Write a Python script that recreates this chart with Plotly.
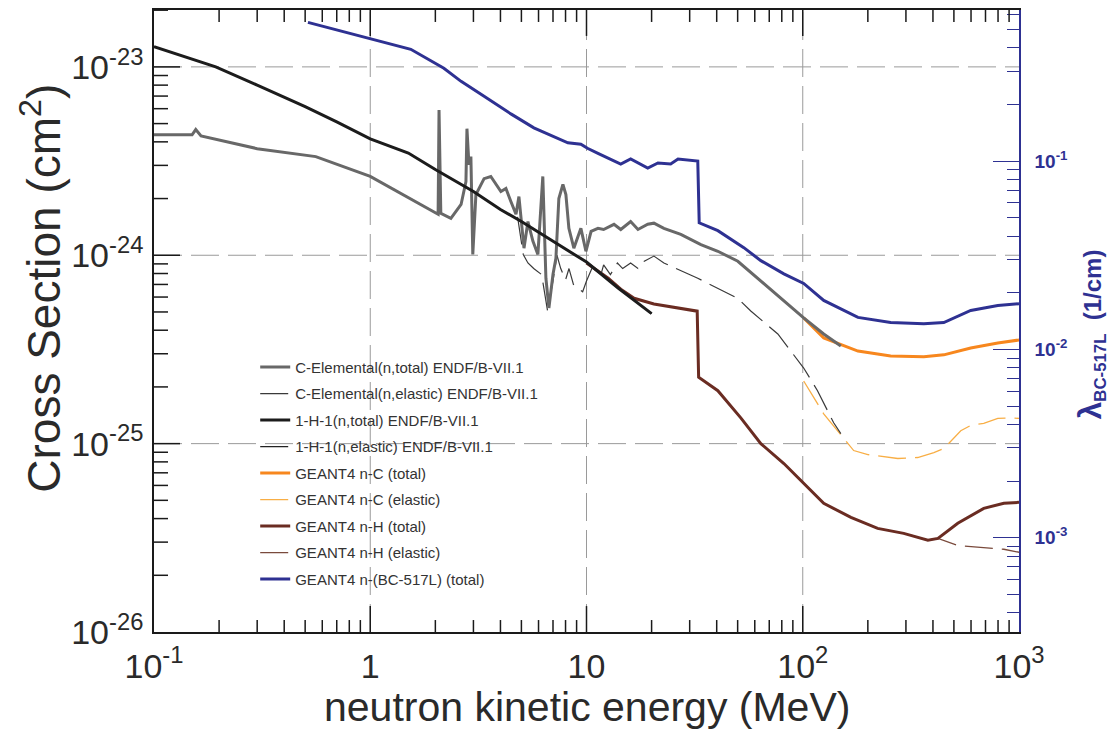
import plotly.graph_objects as go

# ---------------- data ----------------
# ENDF/B-VII.1 C-Elemental (n,total)  [MeV, cm^2]
E_C_TOT = [0.1, 0.15, 0.156, 0.165, 0.3, 0.56, 1.0, 1.39, 2.06, 2.08, 2.12, 2.36, 2.63, 2.77,
           2.80, 2.86, 2.92, 2.98, 3.08, 3.36, 3.61, 4.02, 4.24, 4.47, 4.72, 4.87, 5.14, 5.36,
           5.65, 5.96, 6.28, 6.49, 6.70, 7.00, 7.22, 7.45, 7.78, 8.03, 8.29, 8.74, 9.42, 9.94,
           10.5, 11.3, 12.0, 13.4, 14.4, 16.0, 17.3, 19.2, 20.5, 22.8, 27.3, 33.8, 40.5, 50.1,
           64, 81.8, 101, 125, 150]
S_C_TOT = [4.36e-24, 4.36e-24, 4.65e-24, 4.30e-24, 3.68e-24, 3.34e-24, 2.62e-24, 2.13e-24,
           1.65e-24, 5.9e-24, 1.67e-24, 1.57e-24, 1.86e-24, 2.46e-24, 4.70e-24, 3.03e-24,
           3.34e-24, 1.01e-24, 2.10e-24, 2.55e-24, 2.62e-24, 2.18e-24, 2.26e-24, 1.93e-24,
           1.65e-24, 2.05e-24, 1.09e-24, 1.51e-24, 1.19e-24, 1.01e-24, 2.62e-24, 7.55e-25,
           5.25e-25, 7.93e-25, 9.64e-25, 2.00e-24, 2.38e-24, 2.10e-24, 1.39e-24, 1.09e-24,
           1.39e-24, 1.05e-24, 1.34e-24, 1.39e-24, 1.37e-24, 1.46e-24, 1.37e-24, 1.51e-24,
           1.37e-24, 1.46e-24, 1.48e-24, 1.39e-24, 1.29e-24, 1.14e-24, 1.05e-24, 9.29e-25,
           7.28e-25, 5.71e-25, 4.65e-25, 3.82e-25, 3.30e-25]

# ENDF/B-VII.1 C-Elemental (n,elastic)
E_C_EL = [4.8, 5.1, 5.36, 5.7, 6.2, 6.6, 7.0, 7.3, 7.6, 8.0, 8.3, 8.7, 9.1, 9.6, 10.0, 10.7,
          11.7, 12.0, 12.9, 13.9, 14.7, 16.0, 17.3, 18.5, 20.5, 22.8, 32.7, 50.1, 57.5, 76.7,
          101, 117, 139, 150]
S_C_EL = [1.6e-24, 1.01e-24, 9.1e-25, 8.5e-25, 7.9e-25, 5.1e-25, 7.3e-25, 1.0e-24, 8.5e-25,
          7.4e-25, 8.5e-25, 7.0e-25, 6.7e-25, 6.4e-25, 7.3e-25, 8.75e-25, 8.0e-25, 8.9e-25,
          7.9e-25, 9.1e-25, 8.5e-25, 9.1e-25, 8.5e-25, 9.3e-25, 9.9e-25, 9.1e-25, 7.55e-25,
          5.9e-25, 5.06e-25, 3.82e-25, 2.52e-25, 1.91e-25, 1.29e-25, 1.13e-25]

# ENDF/B-VII.1 1-H-1 (n,total) and (n,elastic)
E_H_TOT = [0.1, 0.193, 0.3, 0.5, 0.7, 1.0, 1.5, 2.0, 3.0, 4.0, 5.0, 7.0, 10, 14, 20]
S_H_TOT = [1.28e-23, 1.0e-23, 8.0e-24, 6.15e-24, 5.1e-24, 4.15e-24, 3.49e-24, 2.85e-24,
           2.18e-24, 1.75e-24, 1.51e-24, 1.19e-24, 9.2e-25, 6.7e-25, 4.9e-25]
E_H_EL = [0.1, 0.193, 0.3, 0.5, 0.7, 1.0, 1.5, 2.0, 3.0, 4.0, 5.0, 7.0, 10, 14, 20]
S_H_EL = [1.28e-23, 1.0e-23, 8.0e-24, 6.15e-24, 5.1e-24, 4.15e-24, 3.49e-24, 2.85e-24,
          2.18e-24, 1.75e-24, 1.51e-24, 1.19e-24, 9.2e-25, 6.7e-25, 4.9e-25]

# GEANT4 n-C
E_G4C_TOT = [101, 125, 180, 255, 363, 449, 598, 798, 1000]
S_G4C_TOT = [4.65e-25, 3.64e-25, 3.10e-25, 2.92e-25, 2.89e-25, 2.96e-25, 3.22e-25, 3.42e-25, 3.55e-25]
E_G4C_EL = [101, 125, 172, 200, 275, 340, 404, 449, 538, 598, 687, 798, 916, 1000]
S_G4C_EL = [2.15e-25, 1.44e-25, 9.19e-26, 8.75e-26, 8.34e-26, 8.44e-26, 8.96e-26, 9.41e-26,
            1.17e-25, 1.25e-25, 1.28e-25, 1.36e-25, 1.37e-25, 1.36e-25]

# GEANT4 n-H
E_G4H_TOT = [10, 10.5, 12.6, 14.4, 16.6, 20.5, 26.5, 32.5, 33.0, 40.5, 51.7, 64, 81.8, 101,
             125, 167, 222, 293, 379, 422, 521, 687, 851, 1000]
S_G4H_TOT = [9.1e-25, 8.75e-25, 7.55e-25, 6.61e-25, 5.91e-25, 5.51e-25, 5.25e-25, 5.05e-25,
             2.25e-25, 1.91e-25, 1.37e-25, 1.0e-25, 7.84e-26, 6.14e-26, 4.82e-26, 4.06e-26,
             3.55e-26, 3.34e-26, 3.07e-26, 3.14e-26, 3.78e-26, 4.53e-26, 4.82e-26, 4.88e-26]
E_G4H_EL = [10, 10.5, 12.6, 14.4, 16.6, 20.5, 26.5, 32.5, 33.0, 40.5, 51.7, 64, 81.8, 101,
            125, 167, 222, 293, 379, 422, 521, 851, 1000]
S_G4H_EL = [9.1e-25, 8.75e-25, 7.55e-25, 6.61e-25, 5.91e-25, 5.51e-25, 5.25e-25, 5.05e-25,
            2.25e-25, 1.91e-25, 1.37e-25, 1.0e-25, 7.84e-26, 6.14e-26, 4.82e-26, 4.06e-26,
            3.55e-26, 3.34e-26, 3.07e-26, 3.14e-26, 2.88e-26, 2.75e-26, 2.65e-26]

# GEANT4 n-(BC-517L) total, attenuation coefficient (1/cm), right axis
E_BC = [0.515, 1.0, 1.54, 2.19, 2.63, 3.36, 4.02, 4.47, 5.71, 8.2, 9.42, 10.1, 11.3, 12.6,
        14.4, 16.0, 19.2, 21.4, 24.5, 26.5, 32.7, 33.2, 40.5, 53.4, 64, 81.8, 101, 125, 180,
        255, 363, 449, 598, 798, 1000]
L_BC = [0.545, 0.448, 0.392, 0.311, 0.265, 0.221, 0.193, 0.178, 0.150, 0.125, 0.123, 0.117,
        0.110, 0.104, 0.0965, 0.1026, 0.0919, 0.0977, 0.0965, 0.1026, 0.100, 0.047, 0.0427,
        0.0347, 0.0296, 0.0252, 0.0224, 0.0182, 0.0148, 0.0139, 0.0137, 0.0139, 0.0161,
        0.0171, 0.0175]

# tick labels
X_TICKS = [0.1, 1, 10, 100, 1000]
X_TICKTEXT = ["10<sup>-1</sup>", "1", "10", "10<sup>2</sup>", "10<sup>3</sup>"]
Y_TICKS = [1e-26, 1e-25, 1e-24, 1e-23]
Y_TICKTEXT = ["10<sup>-26</sup>", "10<sup>-25</sup>", "10<sup>-24</sup>", "10<sup>-23</sup>"]
Y2_TICKS = [1e-3, 1e-2, 1e-1]
Y2_TICKTEXT = ["10<sup>-3</sup>", "10<sup>-2</sup>", "10<sup>-1</sup>"]
X_GRID = [1, 10, 100]
Y_GRID = [1e-25, 1e-24, 1e-23]

# ---------------- styling ----------------
FONT = "Liberation Sans, Arial, Helvetica, sans-serif"
NAVY = "#2e3192"
GRAY = "#686868"
BLACK = "#1c1c1c"
ORANGE = "#f7871e"
ORANGE_L = "#f8ae45"
BROWN = "#6a2c22"
BROWN_L = "#7a4a3c"
DASH = "28px,9px"
AXC = "#1a1a1a"
GRIDC = "#9a9a9a"

W, H = 1112, 732
ML, MR, MT, MB = 154, 93, 8, 100
PW, PH = W - ML - MR, H - MT - MB   # plot area in px

fig = go.Figure()

def add(x, y, name, color, width, dash, rank, yaxis="y"):
    fig.add_trace(go.Scatter(
        x=x, y=y, name=name, mode="lines", yaxis=yaxis,
        line=dict(color=color, width=width, dash=dash),
        legendgroup=name, legendrank=rank, hoverinfo="skip"))

# GEANT4 first (underneath), ENDF on top
add(E_BC, L_BC, "GEANT4 n-(BC-517L) (total)", NAVY, 3, "solid", 9, yaxis="y2")
add(E_G4C_EL, S_G4C_EL, "GEANT4 n-C (elastic)", ORANGE_L, 1.3, DASH, 6)
add(E_G4C_TOT, S_G4C_TOT, "GEANT4 n-C (total)", ORANGE, 3, "solid", 5)
add(E_G4H_EL, S_G4H_EL, "GEANT4 n-H (elastic)", BROWN_L, 1.3, DASH, 8)
add(E_G4H_TOT, S_G4H_TOT, "GEANT4 n-H (total)", BROWN, 3, "solid", 7)
add(E_C_EL, S_C_EL, "C-Elemental(n,elastic) ENDF/B-VII.1", "#3a3a3a", 1.2, DASH, 2)
add(E_C_TOT, S_C_TOT, "C-Elemental(n,total) ENDF/B-VII.1", GRAY, 3, "solid", 1)
add(E_H_EL, S_H_EL, "1-H-1(n,elastic) ENDF/B-VII.1", "#222222", 1.2, DASH, 4)
add(E_H_TOT, S_H_TOT, "1-H-1(n,total) ENDF/B-VII.1", BLACK, 3, "solid", 3)

def minor_vals(lo, hi):
    vals = []
    for p in range(lo, hi + 1):
        for m in range(2, 10):
            vals.append(m * 10.0 ** p)
    return vals

# dashed decade grid lines (positions in data units on the log axes)
for gx in X_GRID:
    fig.add_shape(type="line", xref="x", yref="paper", x0=gx, x1=gx, y0=0, y1=1,
                  line=dict(color=GRIDC, width=1, dash=DASH), layer="below")
for gy in Y_GRID:
    fig.add_shape(type="line", xref="paper", yref="y", x0=0, x1=1, y0=gy, y1=gy,
                  line=dict(color=GRIDC, width=1, dash=DASH), layer="below")

# inward tick marks on bottom/top (x) and left (y) axes
def xtick(v, length_px):
    ly = length_px / PH
    for a, b in ((0, ly), (1, 1 - ly)):
        fig.add_shape(type="line", xref="x", yref="paper", x0=v, x1=v, y0=a, y1=b,
                      line=dict(color=AXC, width=1.5), layer="above")

def ytick(v, length_px):
    lx = length_px / PW
    fig.add_shape(type="line", xref="paper", yref="y", x0=0, x1=lx, y0=v, y1=v,
                  line=dict(color=AXC, width=1.5), layer="above")

for v in minor_vals(-1, 2):
    xtick(v, 12)
for v in X_GRID:
    xtick(v, 26)
for v in minor_vals(-26, -24) + [2e-23]:
    ytick(v, 14)
for v in Y_GRID:
    ytick(v, 26)

fig.update_layout(
    width=W, height=H,
    margin=dict(l=ML, r=MR, t=MT, b=MB),
    paper_bgcolor="white", plot_bgcolor="white",
    font=dict(family=FONT, color="#2a2a2a"),
    showlegend=True,
    legend=dict(x=0.117, y=0.452, xanchor="left", yanchor="top",
                bgcolor="rgba(0,0,0,0)", borderwidth=0,
                font=dict(size=15, color="#333333", family=FONT),
                traceorder="grouped", tracegroupgap=4, itemwidth=30),
    xaxis=dict(type="log", range=[-1, 3],
               tickmode="array", tickvals=X_TICKS, ticktext=X_TICKTEXT,
               tickfont=dict(size=34, color="#2a2a2a"), ticklabelstandoff=3,
               ticks="", showline=True, linecolor=AXC, linewidth=1.5, mirror=True,
               showgrid=False, zeroline=False),
    yaxis=dict(type="log", range=[-26, -22.698],
               tickmode="array", tickvals=Y_TICKS, ticktext=Y_TICKTEXT,
               tickfont=dict(size=34, color="#2a2a2a"), ticklabelstandoff=2,
               ticks="", showline=True, linecolor=AXC, linewidth=1.5,
               showgrid=False, zeroline=False),
    yaxis2=dict(type="log", range=[-3.5, -0.198], overlaying="y", side="right",
                tickmode="array", tickvals=Y2_TICKS, ticktext=Y2_TICKTEXT,
                tickfont=dict(size=19, color=NAVY, weight="bold"), ticklabelstandoff=10,
                ticks="inside", ticklen=26, tickwidth=1.4, tickcolor=NAVY,
                showline=True, linecolor=NAVY, linewidth=1.5,
                showgrid=False, zeroline=False,
                minor=dict(tickmode="array", tickvals=minor_vals(-4, -1),
                           ticks="inside", ticklen=12, tickwidth=1.4, tickcolor=NAVY,
                           showgrid=False)),
    annotations=[
        dict(text="Cross Section (cm<sup>2</sup>)", xref="paper", yref="paper",
             x=-0.131, y=0.553, textangle=-90, showarrow=False,
             xanchor="center", yanchor="middle",
             font=dict(size=46, color="#2a2a2a", family=FONT)),
        dict(text="neutron kinetic energy (MeV)", xref="paper", yref="paper",
             x=0.5, y=-0.16, showarrow=False, xanchor="center", yanchor="bottom",
             font=dict(size=41, color="#2a2a2a", family=FONT)),
        dict(text="<b><span style='font-size:32px'>λ</span><sub>BC-517L</sub>  (1/cm)</b>",
             xref="paper", yref="paper",
             x=1.083, y=0.478, textangle=-90, showarrow=False,
             xanchor="center", yanchor="middle",
             font=dict(size=24, color=NAVY, family=FONT)),
    ],
)

fig.write_html("out.html")
